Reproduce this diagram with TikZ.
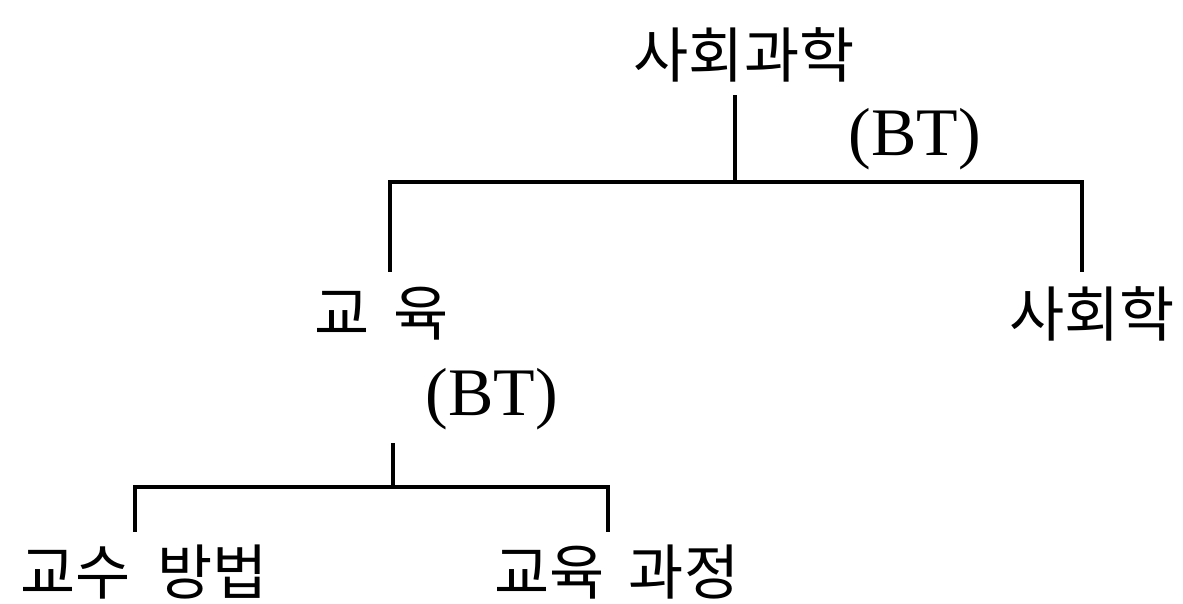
\documentclass[tikz,border=0pt]{standalone}
\usepackage{fontspec}
\setmainfont{Liberation Serif}
\newfontfamily\kr{Noto Sans CJK KR}
\begin{document}
\begin{tikzpicture}[x=1pt,y=-1pt,
  term/.style={inner sep=0pt,anchor=center,font=\kr\fontsize{60}{64}\selectfont},
  rel/.style={inner sep=0pt,anchor=center,font=\fontsize{68}{72}\selectfont},
  link/.style={line width=3.5pt,line join=miter,line cap=rect}]
\useasboundingbox (0,0) rectangle (1183,603);
% terms
\node[term] (soc) at (744,55) {사회과학};
\node[term] (edu) at (382,314) {교\hspace{0.4em}육};
\node[term] (sociology) at (1092,314) {사회학};
\node[term] (teach) at (144,572) {교수\hspace{0.45em}방법};
\node[term] (curr) at (617,572) {교육\hspace{0.4em}과정};
% relation labels
\node[rel] (bt1) at (915,139) {(BT)};
\node[rel] (bt2) at (492,399) {(BT)};
% junction coordinates
\coordinate (s1) at (735,97);
\coordinate (j1) at (735,182);
\coordinate (l1) at (390,182);
\coordinate (r1) at (1082,182);
\coordinate (l1e) at (390,270);
\coordinate (r1e) at (1082,270);
\coordinate (s2) at (393,445);
\coordinate (j2) at (393,487);
\coordinate (l2) at (135,487);
\coordinate (r2) at (608,487);
\coordinate (l2e) at (135,530);
\coordinate (r2e) at (608,530);
% connectors
\draw[link] (s1) -- (j1);
\draw[link] (l1e) -- (l1) -- (r1) -- (r1e);
\draw[link] (s2) -- (j2);
\draw[link] (l2e) -- (l2) -- (r2) -- (r2e);
\end{tikzpicture}
\end{document}
